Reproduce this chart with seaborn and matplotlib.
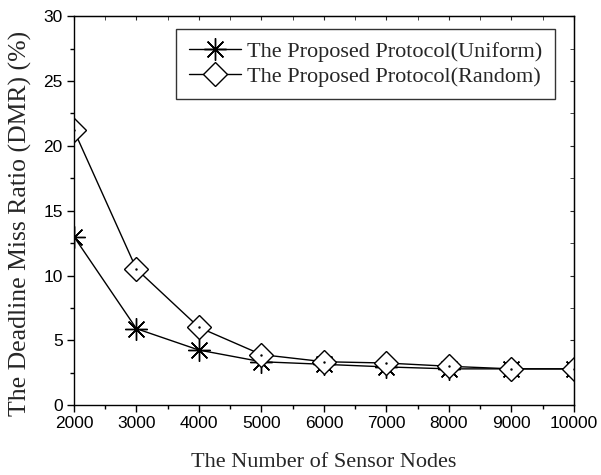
import matplotlib
matplotlib.use("Agg")
import matplotlib.pyplot as plt
import seaborn as sns
import pandas as pd
from matplotlib.ticker import MultipleLocator

nodes = [2000, 3000, 4000, 5000, 6000, 7000, 8000, 9000, 10000]
uniform = [13.0, 5.9, 4.25, 3.35, 3.15, 2.95, 2.8, 2.8, 2.8]
random_ = [21.2, 10.5, 6.0, 3.9, 3.35, 3.25, 3.0, 2.8, 2.8]
series_names = ["The Proposed Protocol(Uniform)", "The Proposed Protocol(Random)"]

sns.set_style("white")
plt.rcParams['font.family'] = ['Liberation Serif', 'DejaVu Serif']

fig = plt.figure(figsize=(6.01, 4.75), dpi=100)
ax = fig.add_axes([0.123, 0.147, 0.832, 0.819])

df_u = pd.DataFrame({"x": nodes, "y": uniform})
df_r = pd.DataFrame({"x": nodes, "y": random_})

sns.lineplot(data=df_u, x="x", y="y", ax=ax, color="black", lw=1.0,
             marker=(8, 2, 0), markersize=16, markeredgewidth=1.0,
             markeredgecolor="black", label=series_names[0], clip_on=True)
sns.lineplot(data=df_r, x="x", y="y", ax=ax, color="black", lw=1.0,
             marker="D", markersize=12.5, markerfacecolor="white",
             markeredgewidth=1.0, markeredgecolor="black", label=series_names[1],
             clip_on=True)
ax.plot(df_r["x"], df_r["y"], ls="none", marker=".", markersize=1.5, color="black")

ax.set_xlim(2000, 10000)
ax.set_ylim(0, 30)
ax.xaxis.set_major_locator(MultipleLocator(1000))
ax.xaxis.set_minor_locator(MultipleLocator(500))
ax.yaxis.set_major_locator(MultipleLocator(5))
ax.yaxis.set_minor_locator(MultipleLocator(2.5))

for lab in ax.get_xticklabels() + ax.get_yticklabels():
    lab.set_family(['Liberation Sans', 'DejaVu Sans'])
    lab.set_fontsize(12.5)

ax.tick_params(which="major", direction="out", length=5, width=1, colors="black",
               bottom=True, left=True, top=False, right=False, pad=3)
ax.tick_params(which="minor", direction="out", length=3, width=1, colors="black",
               bottom=True, left=True, top=False, right=False)
sec_x = ax.secondary_xaxis("top")
sec_x.xaxis.set_major_locator(MultipleLocator(1000))
sec_x.xaxis.set_minor_locator(MultipleLocator(500))
sec_x.tick_params(which="major", direction="in", length=3, labeltop=False)
sec_x.tick_params(which="minor", direction="in", length=3)
sec_y = ax.secondary_yaxis("right")
sec_y.yaxis.set_major_locator(MultipleLocator(5))
sec_y.yaxis.set_minor_locator(MultipleLocator(2.5))
sec_y.tick_params(which="major", direction="in", length=3, labelright=False)
sec_y.tick_params(which="minor", direction="in", length=3)

for sp in ax.spines.values():
    sp.set_color("black")
    sp.set_linewidth(1.0)

ax.set_xlabel("The Number of Sensor Nodes", fontsize=16)
ax.set_ylabel("The Deadline Miss Ratio (DMR) (%)", fontsize=18.5)
ax.xaxis.set_label_coords(0.5, -0.122)
ax.yaxis.set_label_coords(-0.083, 0.466)

leg = ax.legend(loc="upper right", fontsize=16, frameon=True, fancybox=False,
                edgecolor="black", handlelength=2.35, handletextpad=0.3,
                borderpad=0.55, labelspacing=0.2, borderaxespad=0,
                bbox_to_anchor=(0.962, 0.9666))
leg.get_frame().set_linewidth(1.0)

fig.savefig("out.png", dpi=100)
